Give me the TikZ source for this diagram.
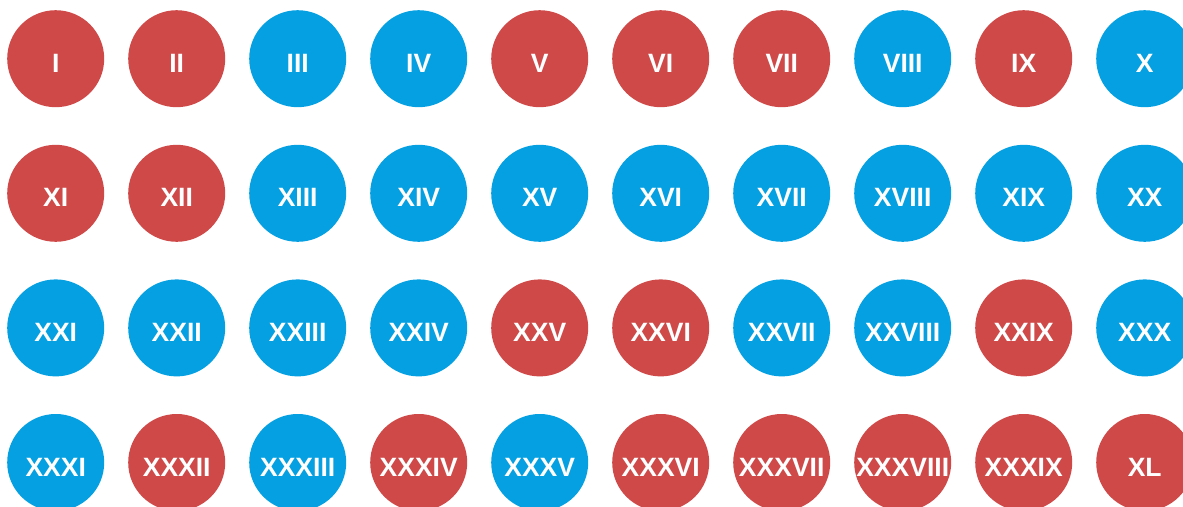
\documentclass[tikz,border=0pt]{standalone}
\usepackage{fontspec}
\setmainfont{Liberation Sans}
\definecolor{ballred}{RGB}{207,73,73}
\definecolor{ballblue}{RGB}{4,160,226}
\tikzset{
  ball/.style={circle,minimum size=97pt,inner sep=0pt,text=white,
    font=\bfseries\fontsize{26.5}{26.5}\selectfont,text height=27pt,text depth=0pt},
  r/.style={ball,fill=ballred},
  b/.style={ball,fill=ballblue}
}
\begin{document}
\begin{tikzpicture}[x=1pt,y=-1pt]
\useasboundingbox (0,0) rectangle (1183,506);
\clip (0,0) rectangle (1183,506);
\foreach \lab/\st [count=\n from 0] in {
  I/r,II/r,III/b,IV/b,V/r,VI/r,VII/r,VIII/b,IX/r,X/b,
  XI/r,XII/r,XIII/b,XIV/b,XV/b,XVI/b,XVII/b,XVIII/b,XIX/b,XX/b,
  XXI/b,XXII/b,XXIII/b,XXIV/b,XXV/r,XXVI/r,XXVII/b,XXVIII/b,XXIX/r,XXX/b,
  XXXI/b,XXXII/r,XXXIII/b,XXXIV/r,XXXV/b,XXXVI/r,XXXVII/r,XXXVIII/r,XXXIX/r,XL/r}{
  \pgfmathtruncatemacro{\col}{mod(\n,10)}
  \pgfmathtruncatemacro{\row}{div(\n,10)}
  \node[\st] (c\n) at ({55.7+121*\col},{58.7+134.6*\row}) {\lab};
}
\end{tikzpicture}
\end{document}
